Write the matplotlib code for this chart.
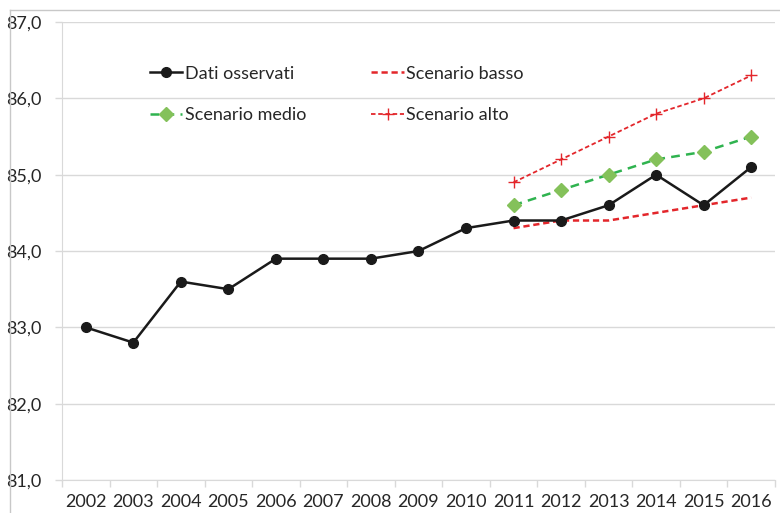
import matplotlib.pyplot as plt
from matplotlib.lines import Line2D
from matplotlib.ticker import FuncFormatter, FixedLocator

plt.rcParams['font.family'] = ['Lato', 'DejaVu Sans']

# data
anni = [2002, 2003, 2004, 2005, 2006, 2007, 2008, 2009, 2010,
        2011, 2012, 2013, 2014, 2015, 2016]
osservati = [83.0, 82.8, 83.6, 83.5, 83.9, 83.9, 83.9, 84.0, 84.3,
             84.4, 84.4, 84.6, 85.0, 84.6, 85.1]
anni_scen = [2011, 2012, 2013, 2014, 2015, 2016]
basso = [84.3, 84.4, 84.4, 84.5, 84.6, 84.7]
medio = [84.6, 84.8, 85.0, 85.2, 85.3, 85.5]
alto = [84.9, 85.2, 85.5, 85.8, 86.0, 86.3]

fig = plt.figure(figsize=(7.8, 5.13), dpi=100)
ax = fig.add_axes([0.0795, 0.0643, 0.914, 0.8927])

grigio = '#d9d9d9'
rosso = '#e3262b'

l_oss, = ax.plot(anni, osservati, color='#1a1a1a', lw=1.8, marker='o', ms=7,
                 label='Dati osservati', zorder=5)
l_bas, = ax.plot(anni_scen, basso, color=rosso, lw=1.8, ls=(0, (2.5, 1.5)),
                 label='Scenario basso', zorder=4)
l_med, = ax.plot(anni_scen, medio, color='#2fb34f', lw=1.8, ls=(0, (3.5, 2.5)),
                 marker='D', ms=7, mfc='#84c15a', mec='#84c15a',
                 label='Scenario medio', zorder=4)
l_alt, = ax.plot(anni_scen, alto, color=rosso, lw=1.3, ls=(0, (2.5, 1.5)),
                 marker='+', ms=9, mew=1.0,
                 label='Scenario alto', zorder=4)

ax.set_xlim(2001.5, 2016.5)
ax.set_ylim(81, 87)
ax.set_xticks(anni)
ax.set_xticklabels([str(a) for a in anni])
ax.xaxis.set_minor_locator(FixedLocator([a - 0.5 for a in anni] + [2016.5]))
ax.tick_params(axis='x', which='major', length=0, pad=10, labelsize=13,
               labelcolor='#262626')
ax.tick_params(axis='x', which='minor', length=5, color=grigio, width=1)
ax.set_yticks([81, 82, 83, 84, 85, 86, 87])
ax.yaxis.set_major_formatter(FuncFormatter(lambda v, p: f'{v:.1f}'.replace('.', ',')))
ax.tick_params(axis='y', length=5, color=grigio, width=1, pad=10,
               labelsize=13, labelcolor='#262626')
ax.grid(axis='y', color=grigio, lw=1)
ax.set_axisbelow(True)
for s in ['top', 'right']:
    ax.spines[s].set_visible(False)
ax.spines['left'].set_color(grigio)
ax.spines['bottom'].set_color(grigio)

ax.legend([l_oss, l_med, l_bas, l_alt],
          ['Dati osservati', 'Scenario medio', 'Scenario basso', 'Scenario alto'],
          loc='upper left', bbox_to_anchor=(0.123, 0.905), ncol=2,
          frameon=False, fontsize=13, handlelength=1.8, handletextpad=0.15,
          columnspacing=3.6, labelspacing=1.4, borderpad=0, borderaxespad=0,
          labelcolor='#262626')

# outer frame of the original picture
fig.add_artist(Line2D([10 / 780, 10 / 780], [0, 1 - 10 / 513],
                      transform=fig.transFigure, color='#c8c8c8', lw=1))
fig.add_artist(Line2D([10 / 780, 1], [1 - 10 / 513, 1 - 10 / 513],
                      transform=fig.transFigure, color='#c8c8c8', lw=1))

plt.savefig('out.png', dpi=100)
